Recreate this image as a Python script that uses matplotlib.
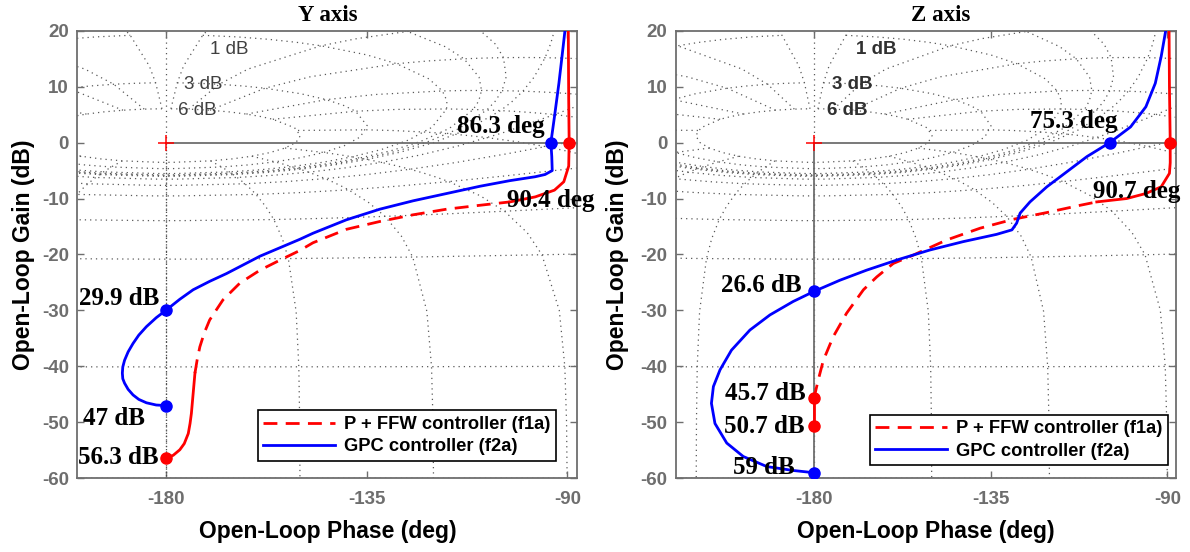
import numpy as np
import matplotlib
matplotlib.use('Agg')
import matplotlib.pyplot as plt

plt.rcParams['axes.unicode_minus'] = False
SANS = 'Liberation Sans'
SERIF = 'Liberation Serif'

# ---- data (open-loop phase in deg, gain in dB) ----
# Y axis, GPC controller (f2a)
y_gpc_phase = [-180, -182.3, -184.5, -186.2, -187.5, -188.6, -189.4, -189.8, -189.9, -189.8,
               -189.4, -188.6, -187.5, -186.2, -184.5, -182.3, -180, -177.0, -174.0, -170.3,
               -166.5, -159.0, -150.1, -147.1, -139.6, -132.1, -124.6, -117.1, -109.6, -102.9,
               -97.2, -95.0, -93.4, -93.5, -93.7, -92.9, -91.9, -91.2, -90.4]
y_gpc_gain = [-47.0, -46.9, -46.5, -45.9, -45.1, -44.1, -43.0, -42.2, -41.2, -40.1,
              -38.9, -37.4, -35.9, -34.4, -32.9, -31.3, -29.9, -28.0, -26.3, -24.8,
              -23.4, -20.3, -17.3, -16.2, -13.8, -11.9, -10.4, -9.1, -7.8, -6.8,
              -6.1, -5.7, -5.0, -2.5, 0.0, 4.6, 10.6, 15.4, 21.0]
# Y axis, P + FFW controller (f1a)
y_ffw_phase = [-180, -178.5, -177.0, -176.0, -175.1, -174.7, -174.4, -174.0, -173.6, -173.1,
               -172.5, -171.5, -170.3, -167.3, -163.5, -159.0, -154.5, -150.1, -147.1, -139.6,
               -132.1, -124.6, -117.1, -109.6, -102.9, -97.2, -92.9, -90.8, -89.7, -89.6,
               -89.7, -89.8]
y_ffw_gain = [-56.3, -55.9, -54.9, -53.8, -52.0, -50.2, -48.4, -44.8, -41.2, -38.8,
              -36.5, -34.0, -31.7, -28.1, -25.1, -22.8, -21.0, -19.3, -17.9, -15.5,
              -14.1, -12.9, -11.9, -11.2, -10.6, -9.7, -8.5, -7.0, -4.2, 0.0,
              7.6, 21.0]

# Z axis, GPC controller (f2a)
z_gpc_phase = [-180, -185.3, -192.0, -198.0, -202.2, -205.2, -206.1, -205.6, -203.9, -201.0,
               -196.3, -191.2, -185.3, -180, -173.4, -166.6, -158.5, -150.5, -142.0, -133.5,
               -129.6, -128.4, -127.5, -125.0, -120.7, -115.6, -110.5, -104.7, -99.4, -95.5,
               -93.1, -91.6, -90.2]
z_gpc_gain = [-59.0, -58.6, -57.9, -56.1, -53.7, -50.2, -46.6, -43.6, -40.6, -37.1,
              -33.5, -30.8, -28.4, -26.6, -24.6, -22.8, -20.9, -19.2, -17.7, -16.4,
              -15.6, -14.4, -12.6, -10.6, -7.9, -5.2, -2.5, 0.0, 2.8, 6.4,
              10.6, 15.4, 21.0]
# Z axis, P + FFW controller (f1a)
z_ffw_phase = [-180, -180, -178.9, -177.6, -175.1, -171.7, -167.4, -164.0, -159.8, -154.7,
               -146.2, -137.7, -129.2, -120.7, -112.2, -108.0, -100.4, -95.5, -91.6, -89.5,
               -89.3, -89.3, -89.5, -89.6]
z_ffw_gain = [-50.7, -45.7, -42.4, -38.9, -34.7, -30.5, -26.3, -24.0, -21.6, -20.1,
              -17.4, -15.3, -13.7, -12.5, -11.2, -10.6, -10.0, -9.1, -7.9, -5.5,
              -3.6, 0.0, 10.0, 21.0]

# marker points (gain margins / phase margins)
y_gpc_marks = ([-180, -180, -93.7], [-47.0, -29.9, 0.0])
y_ffw_marks = ([-180, -89.6], [-56.3, 0.0])
z_gpc_marks = ([-180, -180, -104.7], [-59.0, -26.6, 0.0])
z_ffw_marks = ([-180, -180, -89.3], [-50.7, -45.7, 0.0])

# margin annotations: text, x, y, ha
y_notes = [('86.3 deg', -95.0, 2.9, 'right'), ('90.4 deg', -103.6, -10.3, 'left'),
           ('29.9 dB', -181.5, -27.8, 'right'), ('47 dB', -184.9, -49.3, 'right'),
           ('56.3 dB', -181.7, -56.3, 'right')]
z_notes = [('75.3 deg', -102.6, 3.7, 'right'), ('90.7 deg', -109.0, -8.8, 'left'),
           ('26.6 dB', -183.1, -25.5, 'right'), ('45.7 dB', -182.0, -44.8, 'right'),
           ('50.7 dB', -182.5, -50.8, 'right'), ('59 dB', -184.8, -58.0, 'right')]

# closed-loop grid (MATLAB ngrid style sampling)
ph_lines = [1, 5, 10, 20, 30, 50, 90, 120, 150, 180]
ph_line_gains = [6, 3, 2, 1, .75, .5, .4, .3, .25, .2, .15, .1, .05, 0, -.05, -.1, -.15, -.2,
                 -.25, -.3, -.4, -.5, -.75, -1, -2, -3, -4, -5, -6, -9, -12, -16, -20, -30,
                 -40, -50, -60, -80, -100, -120, -140, -160, -180, -200, -220, -240]
gain_lines = [6, 3, 1, .5, .25, 0, -1, -3, -6, -12, -20, -40, -60]
gain_line_phases = [1, 2, 3, 4, 5, 7.5, 10, 15, 20, 25, 30, 45, 60, 75, 90, 105, 120, 135,
                    150, 175, 180]
m_labels = ['1 dB', '3 dB', '6 dB']
y_mlabel_pos = [(-165.9, 16.7), (-171.8, 10.3), (-173.1, 5.8)]
z_mlabel_pos = [(-164.2, 16.7), (-170.3, 10.3), (-171.6, 5.8)]

GRID_KW = dict(color='0.35', lw=0.9, ls=(0, (1, 3.2)), zorder=1)
GRAY = '#6e6e6e'


def open_loop(mdb, pdeg):
    T = 10 ** (np.asarray(mdb, float) / 20.0) * np.exp(1j * np.radians(pdeg))
    return T / (1 - T)


def draw_ngrid(ax):
    p2 = np.array(gain_line_phases, float)
    p2 = np.concatenate([p2, 360 - p2[:-1][::-1]])
    for g in gain_lines:
        G = open_loop(g, -p2)
        ph = np.degrees(np.unwrap(np.angle(G)))
        if ph[0] > 0:
            ph -= 360
        ax.plot(ph, 20 * np.log10(np.abs(G)), **GRID_KW)
    g1 = np.array(ph_line_gains, float)
    allp = sorted(set(ph_lines + [360 - p for p in ph_lines]))
    for p in allp:
        G = open_loop(g1, -p)
        ph = np.degrees(np.unwrap(np.angle(G)))
        ph += 360 * np.round((-p - ph[-1]) / 360.0)
        ax.plot(ph, 20 * np.log10(np.abs(G)), **GRID_KW)
    ax.plot([-180, -180], [0, 25], **GRID_KW)


def panel(ax, title, title_x, xlim, gpc, ffw, gpc_marks, ffw_marks, notes,
          split, lab_pos, lab_bold, vline_solid, ylab_x, leg_anchor):
    draw_ngrid(ax)
    ax.plot([-180, xlim[1] + 5], [0, 0], color=GRAY, lw=1.3, zorder=2)
    if vline_solid:
        ax.plot([-180, -180], [0, -70], color=GRAY, lw=1.3, zorder=2)
    else:
        ax.plot([-180, -180], [0, -70], color='0.3', lw=0.9, ls=(0, (1, 1.6)), zorder=2)
    ax.plot([-180], [0], marker='+', color='red', ms=12, mew=1.1, zorder=3)

    fp, fg = ffw
    s0, s1 = split
    ax.plot(fp[:s0 + 1], fg[:s0 + 1], color='#ff0000', lw=2.0, zorder=4)
    ax.plot(fp[s0:s1 + 1], fg[s0:s1 + 1], color='#ff0000', lw=2.0, ls=(0, (5, 3)),
            zorder=4, label='P + FFW controller (f1a)')
    ax.plot(fp[s1:], fg[s1:], color='#ff0000', lw=2.0, zorder=4)
    ax.plot(gpc[0], gpc[1], color='#0000ff', lw=2.0, zorder=5, label='GPC controller (f2a)')
    ax.plot(ffw_marks[0], ffw_marks[1], 'o', color='#ff0000', ms=8, zorder=6)
    ax.plot(gpc_marks[0], gpc_marks[1], 'o', color='#0000ff', ms=8, zorder=6)

    for txt, x, y, ha in notes:
        ax.text(x, y, txt, ha=ha, va='center', fontsize=18, fontweight='bold',
                family=SERIF, zorder=7, clip_on=False)
    for txt, (x, y) in zip(m_labels, lab_pos):
        ax.text(x, y, txt, ha='center', va='center', fontsize=13.5,
                fontweight='bold' if lab_bold else 'normal',
                color='#303030' if lab_bold else '#404040', family=SANS, zorder=3)

    ax.set_xlim(*xlim)
    ax.set_ylim(-60, 20)
    ax.set_xticks([-180, -135, -90])
    ax.set_yticks(np.arange(-60, 21, 10))
    ax.tick_params(direction='in', length=5, width=1.0, color=GRAY, top=True, right=True,
                   labelsize=13.5, labelcolor=GRAY, pad=6)
    ax.tick_params(axis='x', pad=9)
    for lab in ax.get_xticklabels() + ax.get_yticklabels():
        lab.set_fontweight('bold')
        lab.set_family(SANS)
    for sp in ax.spines.values():
        sp.set_color(GRAY)
        sp.set_linewidth(1.3)

    ax.set_xlabel('Open-Loop Phase (deg)', fontsize=16.5, fontweight='bold', family=SANS)
    ax.xaxis.set_label_coords(0.5, -0.119)
    ax.xaxis.label.set_va('center')
    ax.set_ylabel('Open-Loop Gain (dB)', fontsize=16.5, fontweight='bold', family=SANS)
    ax.yaxis.set_label_coords(ylab_x, 0.5)
    ax.yaxis.label.set_va('center')
    ax.text(title_x, 1.035, title, transform=ax.transAxes, ha='center', va='center',
            fontsize=16.5, fontweight='bold', family=SERIF)

    leg = ax.legend(loc='lower right', bbox_to_anchor=leg_anchor, borderaxespad=0,
                    fancybox=False, framealpha=1, edgecolor='black', handlelength=3.9,
                    prop={'family': SANS, 'weight': 'bold', 'size': 13.2},
                    labelspacing=0.3, borderpad=0.3, handletextpad=0.5)
    leg.get_frame().set_linewidth(1.2)
    leg.set_zorder(8)


fig = plt.figure(figsize=(11.9, 5.52), dpi=100)
ax1 = fig.add_axes([0.0650, 0.1335, 0.4202, 0.8109])
ax2 = fig.add_axes([0.5678, 0.1335, 0.4202, 0.8109])

panel(ax1, 'Y axis', 0.5, (-200.0, -87.75), (y_gpc_phase, y_gpc_gain),
      (y_ffw_phase, y_ffw_gain), y_gpc_marks, y_ffw_marks, y_notes, (8, 24),
      y_mlabel_pos, False, False, -0.1086, (0.957, 0.0387))
panel(ax2, 'Z axis', 0.53, (-215.2, -87.9), (z_gpc_phase, z_gpc_gain),
      (z_ffw_phase, z_ffw_gain), z_gpc_marks, z_ffw_marks, z_notes, (1, 15),
      z_mlabel_pos, True, True, -0.1154, (0.984, 0.0297))

fig.savefig('out.png', dpi=100)
